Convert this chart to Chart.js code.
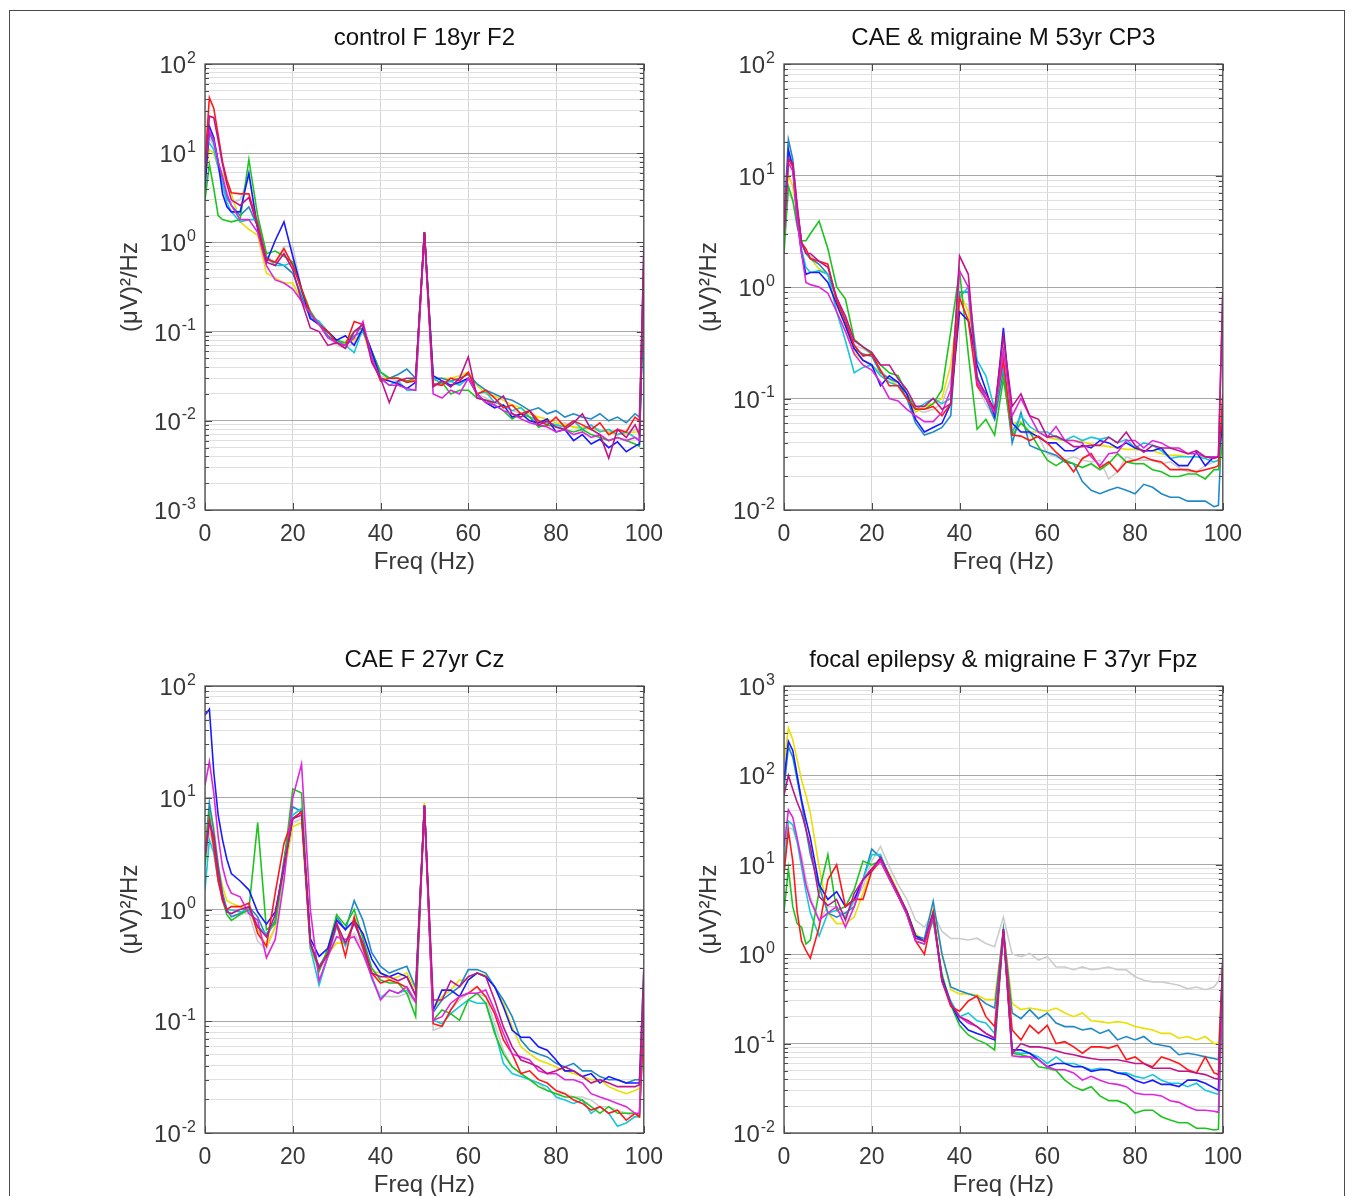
<!DOCTYPE html>
<html>
<head>
<meta charset="utf-8">
<script src="https://cdn.jsdelivr.net/npm/chart.js@4.4.1/dist/chart.umd.min.js"></script>
<style>
  html, body { margin: 0; padding: 0; background: #fff; }
  body { width: 1355px; height: 1196px; position: relative; overflow: hidden; }
  #frame { position: absolute; left: 9px; top: 10px; width: 1336px; height: 1260px; border: 1px solid #4a4a4a; box-sizing: border-box; }
  .panel { position: absolute; }
</style>
</head>
<body>
<div id="frame"></div>
<div class="panel" id="p0"><canvas id="c0"></canvas></div>
<div class="panel" id="p1"><canvas id="c1"></canvas></div>
<div class="panel" id="p2"><canvas id="c2"></canvas></div>
<div class="panel" id="p3"><canvas id="c3"></canvas></div>
<script>
// frequency bins (Hz) shared by every spectrum
const freqHz = [0,1,2,3,4,5,6, 8,10,12,14,16,18,20,22, 24,26,28,30,32,34,36,38, 40,42,44,46,48,50,52,54,
  56,58,60,62,64,66,68,70, 72,74,76,78,80,82,84,86, 88,90,92,94,96,98,99,100];
const xTickValues = [0, 20, 40, 60, 80, 100];
const panelTitles = ['control F 18yr F2', 'CAE & migraine M 53yr CP3', 'CAE F 27yr Cz', 'focal epilepsy & migraine F 37yr Fpz'];
// y axis decades (10^lo .. 10^hi)
const yDecades = [[-3, 2], [-2, 2], [-2, 2], [-2, 3]];

// ---- control F 18yr F2
const tlPurple = [6,26,25,14,7.5,4.5,3, 2.6,3.2,1.5,0.6,0.55,0.75,0.5,0.22, 0.11,0.1,0.07,0.075,0.065,0.1,0.12,0.045,
  0.03,0.016,0.028,0.03,0.03,1.3,0.024,0.028, 0.024,0.03,0.052,0.018,0.017,0.016,0.019,0.012,
  0.011,0.013,0.009,0.01,0.0085,0.008,0.0095,0.012, 0.008,0.007,0.0038,0.008,0.0065,0.009,0.007,0.9];
const tlMagenta = [7,18,14,8,5.5,3.5,2.6, 1.8,1.8,1.3,0.55,0.38,0.35,0.3,0.22, 0.16,0.12,0.085,0.075,0.07,0.085,0.13,0.05,
  0.03,0.025,0.025,0.023,0.022,1.25,0.02,0.018, 0.022,0.02,0.03,0.02,0.016,0.015,0.013,0.012,
  0.0105,0.0095,0.009,0.0085,0.0075,0.008,0.007,0.0075, 0.0065,0.007,0.006,0.0065,0.006,0.0065,0.006,0.8];
const tlRed = [8,42,32,16,8,5,3.6, 3.5,3.5,1.6,0.65,0.6,0.85,0.55,0.3, 0.16,0.12,0.1,0.075,0.07,0.13,0.12,0.05,
  0.028,0.03,0.03,0.027,0.028,1.3,0.026,0.025, 0.03,0.028,0.035,0.02,0.022,0.018,0.014,0.015,
  0.012,0.013,0.01,0.009,0.011,0.0085,0.01,0.009, 0.008,0.0095,0.007,0.008,0.0075,0.011,0.01,0.5];
const tlBlue = [4,20,15,8,3.5,2.5,2.2, 2.2,6,1.4,0.6,1.05,1.7,0.7,0.3, 0.14,0.12,0.1,0.08,0.09,0.07,0.11,0.06,
  0.03,0.028,0.026,0.023,0.027,1.3,0.032,0.028, 0.025,0.027,0.03,0.02,0.016,0.014,0.015,0.011,
  0.012,0.01,0.0095,0.0105,0.0075,0.008,0.006,0.007, 0.0055,0.0062,0.005,0.0058,0.0045,0.0052,0.0055,0.4];
const tlGreen = [3,7.5,4,2,1.8,1.75,1.7, 1.8,8.5,2,0.75,0.8,0.7,0.6,0.3, 0.17,0.12,0.1,0.08,0.075,0.1,0.11,0.06,
  0.035,0.03,0.03,0.028,0.03,1.3,0.025,0.027, 0.02,0.022,0.022,0.018,0.017,0.015,0.013,0.0105,
  0.012,0.011,0.0085,0.009,0.0085,0.008,0.0075,0.008, 0.007,0.0065,0.006,0.0065,0.006,0.0055,0.0052,0.3];
const tlCyan = [10,13,11,7,4.5,2.8,2.2, 1.7,1.8,1.8,0.7,0.55,0.55,0.6,0.28, 0.15,0.13,0.1,0.08,0.07,0.058,0.11,0.055,
  0.03,0.025,0.028,0.022,0.022,1.3,0.03,0.026, 0.028,0.025,0.03,0.02,0.021,0.016,0.015,0.013,
  0.014,0.011,0.01,0.0095,0.009,0.0085,0.01,0.008, 0.009,0.0075,0.008,0.007,0.0075,0.0065,0.006,0.3];
const tlSteel = [6,17,13,8,5,3.2,2.6, 2.0,2.5,1.5,0.65,0.6,0.55,0.45,0.25, 0.14,0.13,0.09,0.075,0.07,0.09,0.1,0.06,
  0.035,0.03,0.033,0.038,0.03,1.3,0.03,0.03, 0.028,0.03,0.033,0.026,0.022,0.02,0.018,0.017,
  0.015,0.013,0.014,0.012,0.013,0.011,0.012,0.011, 0.0105,0.012,0.01,0.011,0.0095,0.012,0.011,0.6];
const tlYellow = [5,11,10,7,6,4.5,3.5, 1.7,1.4,1.2,0.45,0.4,0.35,0.35,0.22, 0.15,0.12,0.09,0.075,0.075,0.08,0.1,0.05,
  0.03,0.03,0.03,0.028,0.028,1.3,0.028,0.03, 0.03,0.032,0.035,0.025,0.02,0.019,0.017,0.015,
  0.014,0.012,0.011,0.0105,0.0095,0.009,0.0085,0.0085, 0.008,0.0078,0.0075,0.007,0.0072,0.0075,0.0075,0.4];
const tlGray = [6,15,12,7,4,3,2.8, 3,5.5,1.5,0.7,0.6,0.9,0.9,0.3, 0.15,0.12,0.09,0.07,0.065,0.075,0.1,0.05,
  0.032,0.03,0.028,0.028,0.027,1.2,0.025,0.028, 0.027,0.026,0.03,0.02,0.018,0.016,0.015,0.013,
  0.012,0.011,0.01,0.0095,0.009,0.0095,0.0085,0.008, 0.0085,0.008,0.0075,0.0078,0.0072,0.008,0.0078,0.5];

// ---- CAE & migraine M 53yr CP3
const trPurple = [3,14,13,5.5,2.5,2,2, 1.7,1.5,0.8,0.55,0.33,0.29,0.26,0.2, 0.2,0.15,0.12,0.085,0.085,0.1,0.08,0.09,
  1.9,1.3,0.15,0.11,0.08,0.36,0.085,0.11, 0.07,0.065,0.045,0.046,0.042,0.037,0.037,0.038,
  0.038,0.045,0.04,0.05,0.038,0.033,0.038,0.036, 0.036,0.034,0.032,0.034,0.03,0.029,0.03,0.9];
const trMagenta = [3,13,11,4,2,1.1,1.05, 1.0,0.88,0.6,0.4,0.25,0.2,0.18,0.14, 0.1,0.095,0.08,0.07,0.062,0.062,0.075,0.12,
  1.4,1.0,0.14,0.1,0.075,0.27,0.07,0.1, 0.07,0.05,0.045,0.056,0.042,0.042,0.04,0.03,
  0.025,0.032,0.033,0.042,0.042,0.036,0.042,0.04, 0.036,0.036,0.032,0.032,0.03,0.03,0.03,0.9];
const trRed = [3.5,14,12,5,2.5,2.2,1.8, 1.7,1.6,0.75,0.5,0.3,0.24,0.25,0.18, 0.13,0.13,0.1,0.08,0.08,0.085,0.07,0.09,
  0.8,0.5,0.13,0.1,0.08,0.22,0.047,0.046, 0.042,0.046,0.04,0.033,0.028,0.022,0.029,0.032,
  0.024,0.027,0.022,0.027,0.028,0.03,0.028,0.027, 0.023,0.023,0.023,0.022,0.023,0.024,0.025,0.11];
const trBlue = [3,17,12,4,2,1.3,1.35, 1.35,1.1,0.7,0.45,0.28,0.22,0.2,0.13, 0.16,0.14,0.11,0.065,0.05,0.055,0.06,0.09,
  0.6,0.5,0.2,0.12,0.07,0.43,0.06,0.05, 0.05,0.045,0.04,0.04,0.034,0.034,0.038,0.036,
  0.042,0.04,0.036,0.04,0.036,0.034,0.034,0.036, 0.029,0.025,0.025,0.033,0.025,0.03,0.03,0.06];
const trGreen = [2,8,6,3.5,2.6,2.6,3, 3.9,2.2,1.0,0.78,0.34,0.29,0.25,0.2, 0.17,0.16,0.11,0.08,0.08,0.09,0.12,0.4,
  1.4,0.25,0.053,0.065,0.047,0.15,0.047,0.06, 0.05,0.037,0.028,0.025,0.028,0.026,0.024,0.026,
  0.023,0.026,0.032,0.027,0.026,0.026,0.023,0.022, 0.02,0.02,0.021,0.021,0.019,0.023,0.023,0.04];
const trCyan = [4,15,12,4.5,2.2,1.5,1.35, 1.4,1.3,0.6,0.33,0.17,0.19,0.2,0.16, 0.14,0.13,0.1,0.08,0.09,0.1,0.09,0.1,
  0.8,1.0,0.22,0.16,0.08,0.2,0.05,0.07, 0.056,0.05,0.05,0.045,0.042,0.046,0.042,0.045,
  0.043,0.045,0.04,0.043,0.036,0.04,0.038,0.034, 0.029,0.03,0.03,0.03,0.029,0.027,0.028,0.05];
const trSteel = [4,21,14,5,2.5,2,1.8, 1.6,1.3,0.8,0.5,0.28,0.25,0.24,0.17, 0.15,0.14,0.1,0.06,0.047,0.05,0.055,0.07,
  0.9,0.9,0.16,0.1,0.065,0.18,0.04,0.075, 0.038,0.035,0.033,0.031,0.027,0.026,0.018,0.015,
  0.014,0.015,0.016,0.015,0.014,0.017,0.016,0.014, 0.013,0.013,0.012,0.012,0.012,0.0107,0.011,0.09];
const trYellow = [4,10,8,4.5,2.5,2,1.8, 1.45,1.3,0.7,0.45,0.26,0.22,0.2,0.17, 0.15,0.13,0.1,0.075,0.085,0.09,0.1,0.2,
  0.9,0.6,0.14,0.1,0.07,0.28,0.06,0.062, 0.05,0.05,0.045,0.043,0.042,0.042,0.041,0.039,
  0.038,0.037,0.036,0.035,0.035,0.034,0.034,0.032, 0.031,0.031,0.03,0.03,0.03,0.029,0.03,0.05];
const trGray = [3,7,6,4,2.5,2,1.9, 1.6,1.3,0.75,0.48,0.3,0.28,0.25,0.18, 0.15,0.14,0.11,0.08,0.075,0.08,0.09,0.15,
  0.7,0.7,0.13,0.09,0.065,0.17,0.055,0.05, 0.048,0.045,0.032,0.03,0.028,0.03,0.028,0.027,
  0.028,0.019,0.022,0.03,0.028,0.028,0.028,0.026, 0.027,0.024,0.022,0.022,0.025,0.027,0.028,0.07];

// ---- CAE F 27yr Cz
const blPurple = [3,6,4.5,2.2,1.3,0.95,0.92, 1.0,1.06,0.7,0.57,0.9,2.5,6.5,7, 0.5,0.3,0.4,0.75,0.5,0.75,0.5,0.27,
  0.25,0.25,0.23,0.25,0.17,8.5,0.155,0.155, 0.23,0.204,0.25,0.27,0.25,0.155,0.089,0.059,
  0.045,0.042,0.039,0.034,0.036,0.039,0.036,0.032, 0.028,0.03,0.028,0.026,0.026,0.026,0.027,0.29];
const blMagenta = [13,21,11,4.5,2.4,1.7,1.4, 1.3,0.92,0.8,0.37,0.54,1.8,10,20, 1.0,0.23,0.38,0.57,0.54,0.57,0.4,0.25,
  0.155,0.19,0.178,0.204,0.15,8.5,0.102,0.11, 0.145,0.166,0.178,0.178,0.19,0.126,0.078,0.051,
  0.048,0.045,0.036,0.034,0.034,0.03,0.03,0.028, 0.0225,0.021,0.0197,0.0184,0.0172,0.015,0.015,0.2];
const blRed = [3,6.3,3.6,1.8,1.2,1.0,1.06, 1.06,1.14,0.61,0.47,1.4,3.9,6.5,7.5, 0.5,0.3,0.4,0.75,0.38,0.86,0.45,0.27,
  0.22,0.234,0.22,0.2,0.15,8.5,0.095,0.09, 0.126,0.166,0.178,0.204,0.166,0.117,0.068,0.051,
  0.034,0.036,0.03,0.028,0.024,0.0225,0.0197,0.0184, 0.016,0.0172,0.015,0.016,0.013,0.015,0.014,0.1];
const blBlue = [55,62,17,7,4.2,2.8,2.1, 1.8,1.5,0.95,0.74,0.95,2.4,6.5,7.5, 0.55,0.38,0.45,0.8,0.66,0.8,0.61,0.36,
  0.27,0.25,0.27,0.25,0.17,8.5,0.126,0.19, 0.19,0.166,0.234,0.27,0.25,0.204,0.135,0.083,
  0.072,0.072,0.059,0.055,0.045,0.036,0.036,0.032, 0.034,0.028,0.032,0.03,0.028,0.028,0.028,0.12];
const blGreen = [2.5,7,4,2,1.2,0.9,0.8, 0.9,1.0,6,0.66,0.75,2.6,12,11, 0.5,0.28,0.45,0.9,0.72,1.0,0.55,0.3,
  0.234,0.22,0.22,0.178,0.11,8.5,0.102,0.126, 0.117,0.102,0.155,0.178,0.145,0.078,0.051,0.039,
  0.034,0.03,0.026,0.024,0.0225,0.021,0.021,0.0197, 0.0172,0.015,0.0172,0.015,0.015,0.015,0.014,0.1];
const blCyan = [1.5,4.2,3.2,1.8,1.3,1.0,0.99, 0.95,0.99,0.7,0.61,0.75,2.4,7,8, 0.45,0.21,0.38,0.7,0.47,0.8,0.45,0.24,
  0.16,0.19,0.178,0.19,0.15,8.5,0.102,0.095, 0.117,0.135,0.155,0.145,0.145,0.083,0.042,0.034,
  0.032,0.03,0.028,0.026,0.021,0.0197,0.0184,0.0197, 0.015,0.0172,0.015,0.0115,0.0123,0.014,0.014,0.12];
const blSteel = [3,9,5,2.5,1.4,1.0,0.86, 0.92,1.06,0.86,0.57,0.8,2.8,8.3,7.5, 0.5,0.31,0.42,0.86,0.66,1.2,0.8,0.41,
  0.31,0.27,0.29,0.31,0.2,8.5,0.12,0.155, 0.178,0.204,0.29,0.29,0.27,0.204,0.155,0.11,
  0.068,0.055,0.051,0.048,0.042,0.039,0.042,0.036, 0.036,0.032,0.03,0.03,0.028,0.03,0.03,0.29];
const blYellow = [4,8,5.5,2.5,1.6,1.2,1.14, 1.06,0.99,0.66,0.47,0.7,2.1,5.5,6, 0.45,0.3,0.4,0.5,0.5,0.8,0.5,0.28,
  0.27,0.234,0.25,0.27,0.19,9,0.126,0.166, 0.19,0.234,0.234,0.27,0.26,0.204,0.145,0.089,
  0.059,0.051,0.045,0.042,0.039,0.036,0.034,0.032, 0.03,0.03,0.026,0.024,0.0225,0.024,0.025,0.15];
const blGray = [2.5,5,3.6,2,1.3,1.0,0.99, 0.95,0.92,0.52,0.44,0.7,2.4,6,6.5, 0.45,0.28,0.38,0.57,0.5,0.61,0.45,0.25,
  0.17,0.166,0.166,0.178,0.145,8.5,0.083,0.089, 0.126,0.155,0.178,0.178,0.166,0.095,0.055,0.039,
  0.034,0.03,0.028,0.024,0.0225,0.0225,0.021,0.021, 0.0197,0.0172,0.0172,0.016,0.015,0.014,0.014,0.15];

// ---- focal epilepsy & migraine F 37yr Fpz
const brPurple = [60,100,70,50,38,25,16, 4.4,3.5,4.1,2.4,4.8,6.8,9,12, 7.5,4.8,3,1.5,1.4,2.9,0.5,0.28,
  0.2,0.18,0.155,0.13,0.115,1.9,0.077,0.1, 0.092,0.092,0.089,0.083,0.078,0.075,0.071,0.068,
  0.066,0.066,0.066,0.063,0.06,0.06,0.053,0.053, 0.053,0.049,0.049,0.047,0.045,0.041,0.04,0.9];
const brMagenta = [16,41,34,20,11,6,4, 2.4,2.9,3.4,2.0,3.4,6.8,9,11, 7,4.5,2.8,1.4,1.3,2.6,0.5,0.28,
  0.2,0.17,0.155,0.13,0.115,1.8,0.073,0.071, 0.071,0.066,0.055,0.051,0.051,0.047,0.039,0.043,
  0.039,0.036,0.035,0.033,0.028,0.027,0.027,0.026, 0.023,0.022,0.0197,0.018,0.018,0.0175,0.017,0.5];
const brRed = [8,24,11,3,1.4,1.1,0.9, 2,6.8,10,3.4,4.1,4.1,8.5,11, 7,4.5,2.8,1.4,1.0,2.9,0.5,0.26,
  0.23,0.3,0.34,0.2,0.155,1.8,0.142,0.11, 0.16,0.13,0.16,0.1,0.105,0.092,0.078,0.092,
  0.092,0.089,0.096,0.066,0.071,0.06,0.055,0.071, 0.066,0.06,0.051,0.047,0.071,0.047,0.045,0.8];
const brBlue = [90,240,190,100,53,32,20, 6,4.1,5,3.4,4.1,6.8,8.5,12, 7.5,4.8,3,1.6,1.4,2.9,0.55,0.28,
  0.18,0.142,0.13,0.12,0.11,1.9,0.085,0.085, 0.078,0.066,0.055,0.06,0.06,0.055,0.055,0.049,
  0.051,0.051,0.047,0.045,0.039,0.036,0.039,0.035, 0.035,0.033,0.039,0.039,0.036,0.032,0.03,0.6];
const brGreen = [3,9,3.4,2.2,2.0,1.3,1.44, 5,13,3.1,3.4,5.3,11,10,11, 7,4.5,2.8,1.4,1.3,2.4,0.6,0.27,
  0.16,0.125,0.11,0.1,0.085,1.8,0.078,0.075, 0.071,0.055,0.053,0.05,0.039,0.033,0.03,0.033,
  0.026,0.023,0.023,0.021,0.0167,0.018,0.018,0.0152, 0.014,0.013,0.013,0.0113,0.0113,0.0108,0.011,0.6];
const brCyan = [10,31,28,18,9.5,5,2.9, 1.6,2.9,3.1,2.6,4.1,6.8,13,13, 7.5,4.5,2.8,1.5,1.5,2.6,0.55,0.3,
  0.2,0.22,0.18,0.17,0.13,1.9,0.081,0.078, 0.078,0.071,0.06,0.071,0.06,0.06,0.055,0.051,
  0.053,0.051,0.047,0.047,0.043,0.041,0.045,0.039, 0.036,0.036,0.033,0.036,0.03,0.028,0.027,0.6];
const brSteel = [70,210,160,90,50,25,13, 5.7,2.9,2.6,2.9,3.4,6.8,15,12, 7,4.5,3,1.6,1.5,3.9,1.0,0.43,
  0.39,0.36,0.335,0.28,0.25,1.9,0.22,0.19, 0.24,0.19,0.22,0.17,0.155,0.155,0.142,0.148,
  0.13,0.142,0.11,0.12,0.11,0.12,0.1,0.096, 0.092,0.075,0.078,0.075,0.071,0.068,0.066,0.8];
const brYellow = [136,340,250,150,89,60,38, 9.5,2.9,2.2,2.2,2.6,4.8,9,11.3, 8,5,3,1.7,1.4,3.2,1.0,0.4,
  0.36,0.36,0.35,0.31,0.31,1.9,0.28,0.24, 0.25,0.24,0.23,0.25,0.22,0.2,0.22,0.18,
  0.176,0.17,0.176,0.17,0.155,0.148,0.142,0.13, 0.13,0.115,0.12,0.11,0.12,0.1,0.1,0.7];
const brGray = [18,26,25,18,13,7,4.4, 2.4,3.4,3.4,2.8,3.8,5.7,11,16, 9.5,6,4.1,2.4,2.0,2.9,1.8,1.5,
  1.5,1.44,1.51,1.32,1.21,2.6,1.0,0.94, 1.02,0.86,0.94,0.72,0.72,0.67,0.72,0.67,
  0.69,0.72,0.67,0.67,0.56,0.51,0.49,0.49, 0.47,0.45,0.41,0.43,0.4,0.43,0.5,0.8];

const panelSeries = [
  [tlPurple, tlMagenta, tlRed, tlBlue, tlGreen, tlCyan, tlSteel, tlYellow, tlGray],
  [trPurple, trMagenta, trRed, trBlue, trGreen, trCyan, trSteel, trYellow, trGray],
  [blPurple, blMagenta, blRed, blBlue, blGreen, blCyan, blSteel, blYellow, blGray],
  [brPurple, brMagenta, brRed, brBlue, brGreen, brCyan, brSteel, brYellow, brGray]
];
const seriesColors = ['#c0168c', '#de26de', '#ff1a1a', '#1a1aff', '#1ec41e', '#16c8d8', '#1f8ac6', '#e8e000', '#cccccc'];

// plot area boxes in page pixels
const plotBoxes = [
  { left: 205, top: 64, width: 439, height: 446 },
  { left: 784, top: 64, width: 439, height: 446 },
  { left: 205, top: 686, width: 439, height: 447 },
  { left: 784, top: 686, width: 439, height: 447 }
];

const FONT = '"Liberation Sans", Arial, Helvetica, sans-serif';
const AXIS_COLOR = '#383838';

function logTicks(lo, hi) {
  const out = [];
  for (let p = lo; p < hi; p++) {
    for (let k = 1; k < 10; k++) out.push(k * Math.pow(10, p));
  }
  out.push(Math.pow(10, hi));
  return out;
}
function isDecade(v) {
  const l = Math.log10(v);
  return Math.abs(l - Math.round(l)) < 1e-6;
}

// matlab-ish box, inward ticks and 10^n labels
const matlabAxes = {
  id: 'matlabAxes',
  afterDraw(chart, args, opts) {
    const { ctx, chartArea: a } = chart;
    const ys = chart.scales.y, xs = chart.scales.x;
    ctx.save();
    ctx.strokeStyle = '#4a4a4a';
    ctx.lineWidth = 1;
    ctx.beginPath();
    ys.ticks.forEach(t => {
      const y = Math.round(ys.getPixelForValue(t.value)) + 0.5;
      const len = isDecade(t.value) ? 7 : 4;
      ctx.moveTo(a.left, y); ctx.lineTo(a.left + len, y);
      ctx.moveTo(a.right, y); ctx.lineTo(a.right - len, y);
    });
    xs.ticks.forEach(t => {
      const x = Math.round(xs.getPixelForValue(t.value)) + 0.5;
      ctx.moveTo(x, a.bottom); ctx.lineTo(x, a.bottom - 7);
      ctx.moveTo(x, a.top); ctx.lineTo(x, a.top + 7);
    });
    ctx.stroke();
    ctx.lineWidth = 1.3;
    ctx.strokeRect(a.left, a.top, a.right - a.left, a.bottom - a.top);

    ctx.fillStyle = AXIS_COLOR;
    ctx.textAlign = 'right';
    ctx.textBaseline = 'alphabetic';
    const right = a.left - 9;
    for (let p = opts.lo; p <= opts.hi; p++) {
      const y = ys.getPixelForValue(Math.pow(10, p));
      const exp = String(p);
      ctx.font = '16px ' + FONT;
      const w = ctx.measureText(exp).width;
      ctx.fillText(exp, right, y - 1.5);
      ctx.font = '24px ' + FONT;
      ctx.fillText('10', right - w - 1, y + 9);
    }
    ctx.restore();
  }
};

panelSeries.forEach((series, i) => {
  const box = plotBoxes[i];
  const [lo, hi] = yDecades[i];
  const holder = document.getElementById('p' + i);
  holder.style.left = (box.left - 105) + 'px';
  holder.style.top = (box.top - 44) + 'px';
  holder.style.width = (box.width + 135) + 'px';
  holder.style.height = (box.height + 114) + 'px';

  const datasets = series.map((vals, k) => ({
    label: 'ch' + (k + 1),
    data: freqHz.map((f, j) => ({ x: f, y: vals[j] })),
    borderColor: seriesColors[k],
    borderWidth: 1.6,
    pointRadius: 0,
    fill: false,
    tension: 0
  }));

  new Chart(document.getElementById('c' + i), {
    type: 'line',
    data: { datasets },
    plugins: [matlabAxes],
    options: {
      responsive: true,
      maintainAspectRatio: false,
      animation: false,
      layout: { padding: { left: 0, right: 30, top: 0, bottom: 0 } },
      plugins: {
        legend: { display: false },
        tooltip: { enabled: false },
        title: {
          display: true,
          text: panelTitles[i],
          fullSize: false,
          color: '#111',
          font: { family: FONT, size: 24, weight: 'normal' },
          padding: { top: 3.6, bottom: 11.6 }
        },
        matlabAxes: { lo, hi }
      },
      scales: {
        x: {
          type: 'linear',
          min: 0,
          max: 100,
          afterBuildTicks: s => { s.ticks = xTickValues.map(v => ({ value: v })); },
          afterFit: s => { s.height = 70; },
          ticks: {
            color: AXIS_COLOR,
            font: { family: FONT, size: 23 },
            padding: 11,
            maxRotation: 0,
            autoSkip: false
          },
          grid: { color: '#d4d4d4', lineWidth: 1, drawTicks: false },
          border: { display: false },
          title: {
            display: true,
            text: 'Freq (Hz)',
            color: AXIS_COLOR,
            font: { family: FONT, size: 24 },
            padding: { top: 0, bottom: 3.6 }
          }
        },
        y: {
          type: 'logarithmic',
          min: Math.pow(10, lo),
          max: Math.pow(10, hi),
          afterBuildTicks: s => { s.ticks = logTicks(lo, hi).map(v => ({ value: v })); },
          afterFit: s => { s.width = 105; },
          ticks: { display: false },
          grid: {
            color: ctx => (ctx.tick && isDecade(ctx.tick.value)) ? '#a8a8a8' : '#e0e0e0',
            lineWidth: 1,
            drawTicks: false
          },
          border: { display: false },
          title: {
            display: true,
            text: '(μV)²/Hz',
            color: AXIS_COLOR,
            font: { family: FONT, size: 24 },
            padding: { top: 15.6, bottom: 0 }
          }
        }
      }
    }
  });
});
</script>
</body>
</html>
